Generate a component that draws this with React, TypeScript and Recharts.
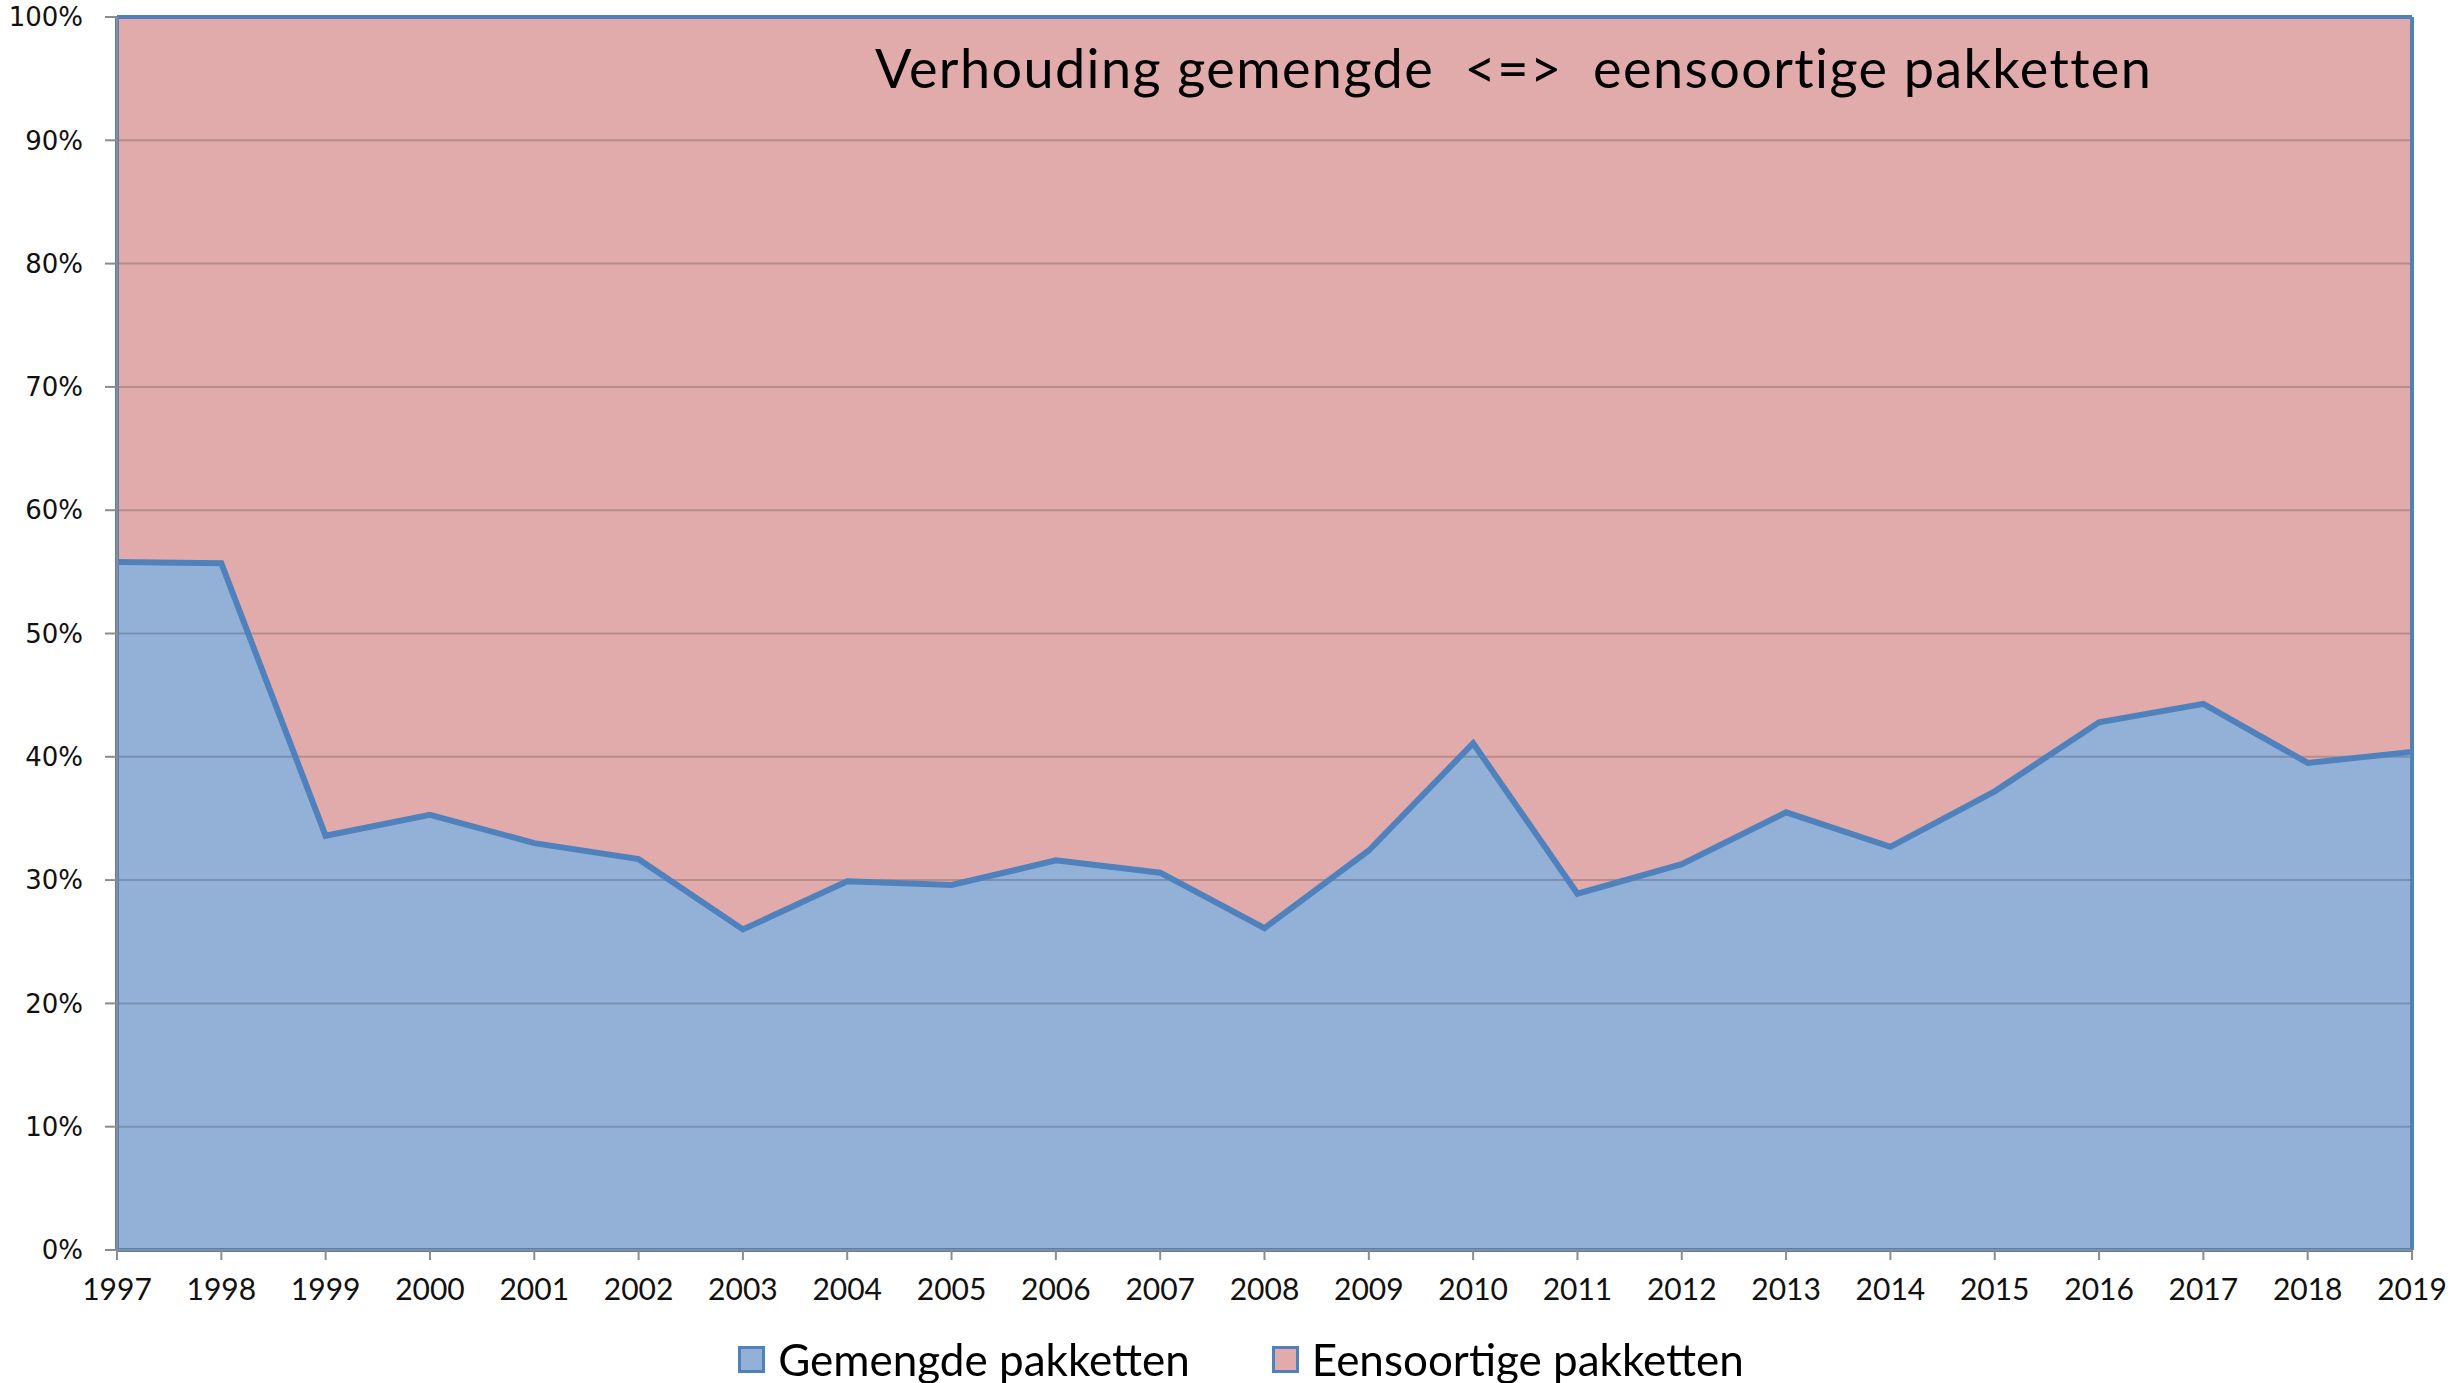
import React from "react";
import { Area, ComposedChart, Legend, Line, ReferenceLine, XAxis, YAxis } from "recharts";

const years = [
  "1997", "1998", "1999", "2000", "2001", "2002", "2003", "2004", "2005", "2006", "2007", "2008",
  "2009", "2010", "2011", "2012", "2013", "2014", "2015", "2016", "2017", "2018", "2019"
];
// share in % of each year
const gemengde = [
  55.8, 55.7, 33.6, 35.3, 33.0, 31.7, 26.0, 29.9, 29.6, 31.6, 30.6, 26.1,
  32.4, 41.1, 28.9, 31.3, 35.5, 32.7, 37.2, 42.8, 44.3, 39.5, 40.4
];
const eensoortige = [
  44.2, 44.3, 66.4, 64.7, 67.0, 68.3, 74.0, 70.1, 70.4, 68.4, 69.4, 73.9,
  67.6, 58.9, 71.1, 68.7, 64.5, 67.3, 62.8, 57.2, 55.7, 60.5, 59.6
];
const yTicks = [0, 10, 20, 30, 40, 50, 60, 70, 80, 90, 100];
const gridLines = [10, 20, 30, 40, 50, 60, 70, 80, 90];

const title = "Verhouding gemengde  <=>  eensoortige pakketten";
const series = [
  { key: "gemengde", name: "Gemengde pakketten", fill: "#93B1D7" },
  { key: "eensoortige", name: "Eensoortige pakketten", fill: "#E0ABAA" }
];

const data = years.map((year, i) => ({ year, gemengde: gemengde[i], eensoortige: eensoortige[i] }));

const LINE = "#4F81BD";
const AXIS = "#8C8C8C";
const calibriLike = "Lato, 'Open Sans', sans-serif";

function LegendContent() {
  return (
    <div style={{ display: "flex", justifyContent: "center", alignItems: "center", gap: 82, paddingLeft: 24 }}>
      {series.map((s) => (
        <div key={s.key} style={{ display: "flex", alignItems: "center", gap: 13 }}>
          <span
            style={{
              width: 21,
              height: 21,
              background: s.fill,
              border: `3px solid ${LINE}`,
              display: "inline-block"
            }}
          />
          <span style={{ fontFamily: calibriLike, fontSize: 44, color: "#000", lineHeight: "56px" }}>{s.name}</span>
        </div>
      ))}
    </div>
  );
}

export default function App() {
  return (
    <div style={{ position: "fixed", left: 0, top: 0, width: 2458, height: 1383, background: "#fff" }}>
      <ComposedChart width={2458} height={1383} data={data} margin={{ top: 17, right: 46, left: 0, bottom: 0 }}>
        <XAxis
          dataKey="year"
          height={133}
          interval={0}
          stroke={AXIS}
          strokeWidth={2}
          tickSize={10}
          tickMargin={19}
          tick={{ fill: "#111", fontSize: 30, fontFamily: calibriLike }}
        />
        <YAxis
          width={117}
          domain={[0, 100]}
          ticks={yTicks}
          interval={0}
          tickFormatter={(v: number) => `${v}%`}
          stroke={AXIS}
          strokeWidth={2}
          tickSize={12}
          tickMargin={22}
          tick={{ fill: "#111", fontSize: 26, fontFamily: "'DejaVu Sans', sans-serif" }}
        />
        <Area
          type="linear"
          dataKey="gemengde"
          name="Gemengde pakketten"
          stackId="a"
          fill="#93B1D7"
          fillOpacity={1}
          stroke="none"
          isAnimationActive={false}
        />
        <Area
          type="linear"
          dataKey="eensoortige"
          name="Eensoortige pakketten"
          stackId="a"
          fill="#E0ABAA"
          fillOpacity={1}
          stroke={LINE}
          strokeWidth={4}
          isAnimationActive={false}
        />
        {gridLines.map((g) => (
          <ReferenceLine key={g} y={g} stroke="#000" strokeOpacity={0.18} strokeWidth={2} />
        ))}
        <ReferenceLine x="1997" stroke={LINE} strokeWidth={4} />
        <ReferenceLine x="2019" stroke={LINE} strokeWidth={4} />
        <ReferenceLine y={0} stroke={LINE} strokeWidth={4} />
        {/* outline of the lower area, drawn on top so the upper fill does not cover it */}
        <Line
          type="linear"
          dataKey="gemengde"
          legendType="none"
          stroke={LINE}
          strokeWidth={6}
          dot={false}
          activeDot={false}
          isAnimationActive={false}
        />
        <Legend
          layout="horizontal"
          verticalAlign="middle"
          align="center"
          wrapperStyle={{ top: 1331, left: 0, width: 2458, height: 56 }}
          content={<LegendContent />}
        />
      </ComposedChart>
      <div
        style={{
          position: "absolute",
          left: 875,
          top: 35,
          fontFamily: calibriLike,
          fontSize: 54,
          letterSpacing: 1.4,
          whiteSpace: "pre",
          color: "#000",
          lineHeight: "66px"
        }}
      >
        {title}
      </div>
    </div>
  );
}
